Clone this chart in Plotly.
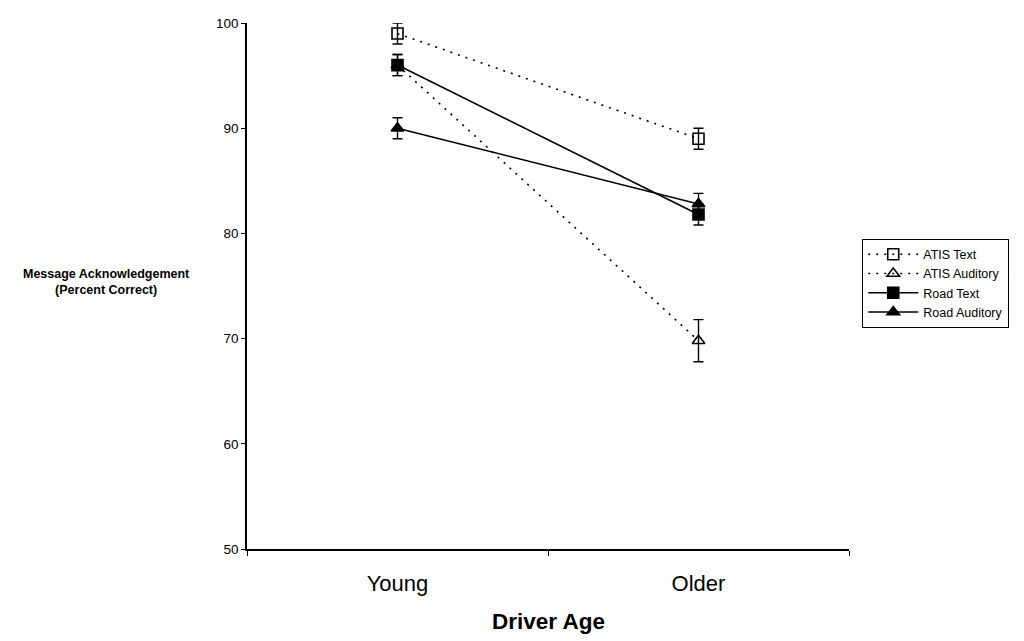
import plotly.graph_objects as go

categories = ["Young", "Older"]
series_names = ["ATIS Text", "ATIS Auditory", "Road Text", "Road Auditory"]
atis_text = [99.0, 89.0]
atis_text_err = [1.0, 1.0]
atis_aud = [96.0, 69.8]
atis_aud_err = [1.0, 2.0]
road_text = [96.0, 81.8]
road_text_err = [1.0, 1.0]
road_aud = [90.0, 82.8]
road_aud_err = [1.0, 1.0]
y_ticks = [50, 60, 70, 80, 90, 100]

styles = [
    (atis_text, atis_text_err, "2px,6px", "square-open"),
    (atis_aud, atis_aud_err, "2px,6px", "triangle-up-open"),
    (road_text, road_text_err, "solid", "square"),
    (road_aud, road_aud_err, "solid", "triangle-up"),
]

fig = go.Figure()
for name, (vals, errs, dash, sym) in zip(series_names, styles):
    fig.add_trace(go.Scatter(
        x=categories, y=vals, name=name, mode="lines+markers",
        line=dict(color="black", width=1.6, dash=dash),
        marker=dict(symbol=sym, size=11, color="black", line=dict(color="black", width=1.6)),
        error_y=dict(type="data", array=errs, visible=True, color="black", thickness=1.4, width=5),
    ))

fig.update_layout(
    width=1016, height=633,
    margin=dict(l=239, r=175, t=8, b=92),
    paper_bgcolor="white", plot_bgcolor="white",
    font=dict(family="Arial, Liberation Sans, sans-serif", color="black"),
    showlegend=True,
    legend=dict(x=1.022, y=0.59, xanchor="left", yanchor="top",
                bordercolor="black", borderwidth=1, bgcolor="white",
                font=dict(size=12.5, color="black"), tracegroupgap=0, itemwidth=50),
    xaxis=dict(
        type="category", range=[-0.5, 1.5], showline=True, linecolor="black", linewidth=1.5,
        ticks="outside", tickson="boundaries", ticklen=5, tickcolor="black",
        showgrid=False, zeroline=False, tickfont=dict(size=22, color="black"),
        ticklabelstandoff=14,
    ),
    yaxis=dict(
        range=[50, 100], tickvals=y_ticks, showline=True, linecolor="black", linewidth=1.5,
        ticks="outside", ticklen=4, tickcolor="black", showgrid=False, zeroline=False,
        tickfont=dict(size=13.5, color="black"),
    ),
    annotations=[
        dict(
            text="<b>Message Acknowledgement<br>(Percent Correct)</b>",
            xref="paper", yref="paper", x=-0.2326, y=0.508, xanchor="center", yanchor="middle",
            showarrow=False, font=dict(size=12.5, color="black"), align="center",
        ),
        dict(
            text="<b>Driver Age</b>",
            xref="paper", yref="paper", x=0.5, y=-0.137, xanchor="center", yanchor="middle",
            showarrow=False, font=dict(size=22.5, color="black"),
        ),
    ],
)

fig.write_html("out.html")
